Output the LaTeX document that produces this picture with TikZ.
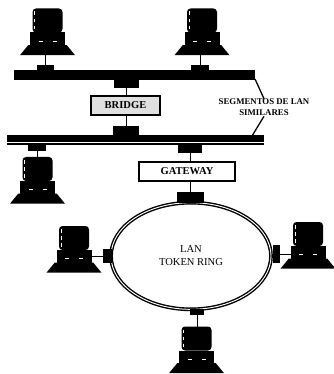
\documentclass[tikz,border=0pt]{standalone}
\usepackage{fontspec}
\setmainfont{Liberation Serif}
\usetikzlibrary{positioning, calc, shapes.geometric}
\tikzset{
    monitor/.style={fill=black, rounded corners=3pt, inner sep=0pt, outer sep=0pt, minimum width=.9cm, minimum height=.72cm},
    pcmid/.style={fill=black, inner sep=0pt, outer sep=0pt, minimum width=1.05cm, minimum height=.38cm},
    pcbase/.style={fill=black, trapezium, trapezium stretches=true, trapezium left angle=78, trapezium right angle=78, inner sep=1pt, outer sep=0pt, minimum width=1.65cm, minimum height=.3cm},
    bus/.style={fill=black, inner sep=0pt, outer sep=0pt, minimum height=.3cm},
    tap/.style={fill=black, inner sep=0pt, outer sep=0pt},
    devbox/.style={draw, line width=1.2pt, inner sep=0pt, font=\bfseries\fontsize{9}{11}\selectfont},
    lbl/.style={inner sep=0pt, align=center, font=\bfseries\fontsize{7.5}{9.5}\selectfont},
    link/.style={line width=.8pt},
    leader/.style={line width=1.1pt}
}
% one computer: monitor, middle part, foot
\newcommand{\pcunit}[2]{
  \node(#1mon)[monitor] at (#2){};
  \node(#1mid)[pcmid, below=0pt of #1mon]{};
  \node(#1base)[pcbase, below=0pt of #1mid]{};
  \draw[white, line width=.4pt, dashed]($(#1mon.north west)+(2,3)$)--($(#1mon.south west)+(2,-3)$);
  \draw[white, line width=.5pt]($(#1mid.center)+(-9,2)$)--($(#1mid.center)+(-5,2)$);
  \draw[white, line width=.5pt]($(#1mid.center)+(5,2)$)--($(#1mid.center)+(9,2)$);
}
\begin{document}
\begin{tikzpicture}[x=.03cm, y=-.03cm]
  \useasboundingbox (0,0) rectangle (333,374);
  % segments
  \node(busA)[bus, minimum width=7.23cm] at (134.5,75){};
  \node(busB)[bus, minimum width=7.71cm] at (135.5,140.5){};
  \draw[white, line width=.6pt]($(busB.west)+(0,2)$)--($(busB.east)+(0,2)$);
  \node(tapA)[tap, minimum width=.51cm, minimum height=.2cm] at (45.5,68){};
  \node(tapB)[tap, minimum width=.54cm, minimum height=.2cm] at (200,68){};
  \node(tapC)[tap, minimum width=.75cm, minimum height=.25cm] at (126.5,83.5){};
  \node(tapD)[tap, minimum width=.78cm, minimum height=.27cm] at (126,131){};
  \node(tapE)[tap, minimum width=.54cm, minimum height=.2cm] at (37,148){};
  \node(tapF)[tap, minimum width=.72cm, minimum height=.22cm] at (190,149){};
  % boxes
  \node(bridge)[devbox, fill=black!12, minimum width=2.07cm, minimum height=.57cm] at (125.5,105.5){BRIDGE};
  \node(gateway)[devbox, fill=white, minimum width=2.88cm, minimum height=.57cm] at (187,171.5){GATEWAY};
  % ring
  \node(ring)[draw, ellipse, line width=1.2pt, double, double distance=.8pt, inner sep=0pt, minimum width=4.8cm, minimum height=3.2cm, align=center, font=\fontsize{9}{11}\selectfont] at (191,256){LAN\\TOKEN RING};
  \node(tapG)[tap, minimum width=.81cm, minimum height=.3cm] at (190.5,197.5){};
  \node(tapH)[tap, minimum width=.27cm, minimum height=.42cm] at (107.5,256){};
  \node(tapI)[tap, minimum width=.21cm, minimum height=.54cm] at (276.5,254){};
  \node(tapJ)[tap, minimum width=.42cm, minimum height=.18cm] at (197,312){};
  % computers
  \pcunit{pcA}{47.5,20.5}
  \pcunit{pcB}{202,20.5}
  \pcunit{pcC}{37.5,169}
  \pcunit{pcD}{74,238}
  \pcunit{pcE}{308,234}
  \pcunit{pcF}{196.5,338.5}
  % links
  \draw[link](tapA)--(tapA |- pcAbase.south);
  \draw[link](tapB)--(tapB |- pcBbase.south);
  \draw[link](tapC)--(bridge.north -| tapC);
  \draw[link](bridge.south -| tapD)--(tapD);
  \draw[link](tapE)--(tapE |- pcCmon.north);
  \draw[link](tapF)--(gateway.north -| tapF);
  \draw[link](gateway.south -| tapG)--(tapG);
  \draw[link](tapH)--(tapH -| pcDmid.east);
  \draw[link](tapI)--(tapI -| pcEmid.west);
  \draw[link](tapJ)--(tapJ |- pcFmon.north);
  % label
  \node(seglabel)[lbl] at (264,107.5){SEGMENTOS DE LAN\\SIMILARES};
  \coordinate(segA) at (255,79);
  \coordinate(segB) at (252,136);
  \draw[leader](segA)--(seglabel.north);
  \draw[leader](segB)--(seglabel.south);
\end{tikzpicture}
\end{document}
